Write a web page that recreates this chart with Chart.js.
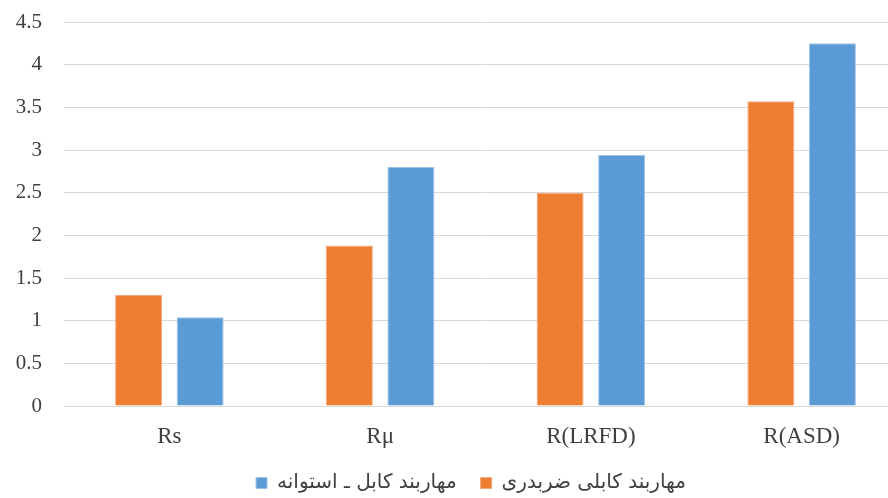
<!DOCTYPE html>
<html>
<head>
<meta charset="utf-8">
<script src="https://cdn.jsdelivr.net/npm/chart.js@4.4.1/dist/chart.umd.min.js"></script>
<style>
  html, body { margin: 0; padding: 0; background: #ffffff; }
  #wrap { width: 888px; height: 498px; overflow: hidden; position: relative; }
  canvas { display: block; }
</style>
</head>
<body>
<div id="wrap"><canvas id="c" width="942" height="498"></canvas></div>
<script>
// Response modification factors for the two bracing systems
const categories = ['Rs', 'Rμ', 'R(LRFD)', 'R(ASD)'];
const seriesNames = ['مهاربند کابلی ضربدری', 'مهاربند کابل ـ استوانه'];
const crossCable = [1.3, 1.88, 2.5, 3.57];
const cableCylinder = [1.04, 2.8, 2.94, 4.25];
const yTickValues = [0, 0.5, 1, 1.5, 2, 2.5, 3, 3.5, 4, 4.5];

const textColor = '#404040';
const gridColor = '#d9d9d9';

new Chart(document.getElementById('c'), {
  type: 'bar',
  data: {
    labels: categories,
    datasets: [
      {
        label: seriesNames[0],
        data: crossCable,
        backgroundColor: '#ED7D31',
        borderColor: '#f3a77a',
        borderWidth: 1,
        categoryPercentage: 0.584,
        barPercentage: 0.764
      },
      {
        label: seriesNames[1],
        data: cableCylinder,
        backgroundColor: '#5B9BD5',
        borderColor: '#9cc2e8',
        borderWidth: 1,
        categoryPercentage: 0.584,
        barPercentage: 0.764
      }
    ]
  },
  options: {
    responsive: false,
    animation: false,
    devicePixelRatio: 1,
    layout: { padding: { top: 22, left: 0, right: 0, bottom: 0 } },
    plugins: {
      tooltip: { enabled: false },
      legend: {
        position: 'bottom',
        reverse: true,
        maxHeight: 49,
        labels: {
          boxWidth: 11,
          boxHeight: 11,
          padding: 24,
          color: textColor,
          font: { family: '"DejaVu Sans"', size: 20 }
        }
      }
    },
    scales: {
      x: {
        grid: { display: false, drawTicks: false },
        border: { display: true, color: gridColor, width: 1 },
        afterFit: (scale) => { scale.height = 43; },
        ticks: {
          color: textColor,
          padding: 19.5,
          font: { family: '"Liberation Serif"', size: 23, lineHeight: 1.0 }
        }
      },
      y: {
        min: 0,
        max: 4.5,
        afterBuildTicks: (scale) => {
          scale.ticks = yTickValues.map(v => ({ value: v }));
        },
        afterFit: (scale) => {
          scale.width = 64;
          scale.paddingTop = 0;
          scale.paddingBottom = 0;
        },
        grid: { color: gridColor, lineWidth: 1, drawTicks: false },
        border: { display: false },
        ticks: {
          color: textColor,
          padding: 22,
          font: { family: '"Liberation Serif"', size: 21 },
          callback: (v) => String(v)
        }
      },
      pad: {
        position: 'right',
        display: true,
        grid: { display: false },
        border: { display: false },
        ticks: { display: false },
        afterFit: (scale) => { scale.width = 35; }
      }
    }
  }
});
</script>
</body>
</html>
